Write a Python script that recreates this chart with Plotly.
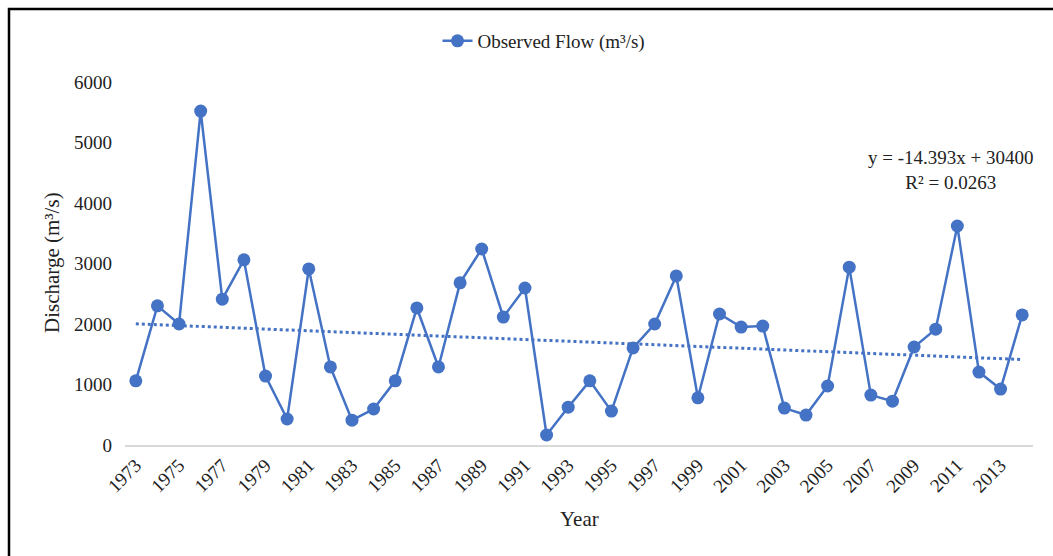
import plotly.graph_objects as go

years = list(range(1973, 2015))
flow = [1060, 2300, 2000, 5520, 2410, 3060, 1140, 430, 2910, 1290,
        410, 595, 1060, 2265, 1290, 2680, 3240, 2115, 2595, 165,
        625, 1060, 560, 1605, 2000, 2795, 780, 2165, 1950, 1965,
        610, 495, 975, 2940, 825, 725, 1620, 1915, 3620, 1205,
        925, 2150]
trend_slope = -14.393
trend_intercept = 30400
trend_label = "y = -14.393x + 30400<br>R² = 0.0263"
tick_years = list(range(1973, 2015, 2))

blue = "#4472C4"
font_family = "Liberation Serif, Times New Roman, serif"

trend_y = [trend_slope * y + trend_intercept for y in years]

fig = go.Figure()
fig.add_trace(go.Scatter(
    x=years, y=trend_y, mode="lines",
    line=dict(color=blue, width=3, dash="dot"),
    showlegend=False, hoverinfo="skip"))
fig.add_trace(go.Scatter(
    x=years, y=flow, mode="lines+markers",
    name="Observed Flow (m³/s)",
    line=dict(color=blue, width=2.5),
    marker=dict(color=blue, size=13)))

W, H = 1053, 556
L, R, T, B = 125, 1033, 82, 445
pw, ph = R - L, B - T

def px(x):
    return (x - L) / pw

def py(y):
    return (B - y) / ph

fig.update_layout(
    width=W, height=H,
    margin=dict(l=L, r=W - R, t=T, b=H - B, autoexpand=False),
    paper_bgcolor="white", plot_bgcolor="white",
    font=dict(family=font_family, size=19, color="#222222"),
    legend=dict(orientation="h", x=px(544), xanchor="center",
                y=py(41), yanchor="middle",
                font=dict(size=19), bgcolor="rgba(0,0,0,0)"),
    xaxis=dict(range=[1972.5, 2014.5], tickmode="array",
               tickvals=tick_years, ticktext=[str(t) for t in tick_years],
               tickangle=-45, showgrid=False, zeroline=False,
               showline=True, linecolor="#d9d9d9", linewidth=1.5,
               ticks="", tickfont=dict(size=19), automargin=False),
    yaxis=dict(range=[0, 6000], tickvals=[0, 1000, 2000, 3000, 4000, 5000, 6000],
               showgrid=False, zeroline=False, showline=False, ticks="",
               tickfont=dict(size=19), ticklabelstandoff=12, automargin=False),
    annotations=[
        dict(text=trend_label, xref="paper", yref="paper",
             x=px(951), y=py(170), xanchor="center", yanchor="middle",
             showarrow=False, align="center", font=dict(size=19)),
        dict(text="Year", xref="paper", yref="paper",
             x=0.5, y=py(519), xanchor="center", yanchor="middle",
             showarrow=False, font=dict(size=21)),
        dict(text="Discharge (m³/s)", xref="paper", yref="paper",
             x=px(52), y=py(263), xanchor="center", yanchor="middle",
             textangle=-90, showarrow=False, font=dict(size=21)),
    ],
    shapes=[
        dict(type="rect", xref="paper", yref="paper",
             x0=px(9), y0=py(600), x1=px(1100), y1=py(9),
             line=dict(color="black", width=2.5), fillcolor="rgba(0,0,0,0)"),
    ],
)

fig.write_html("out.html")
